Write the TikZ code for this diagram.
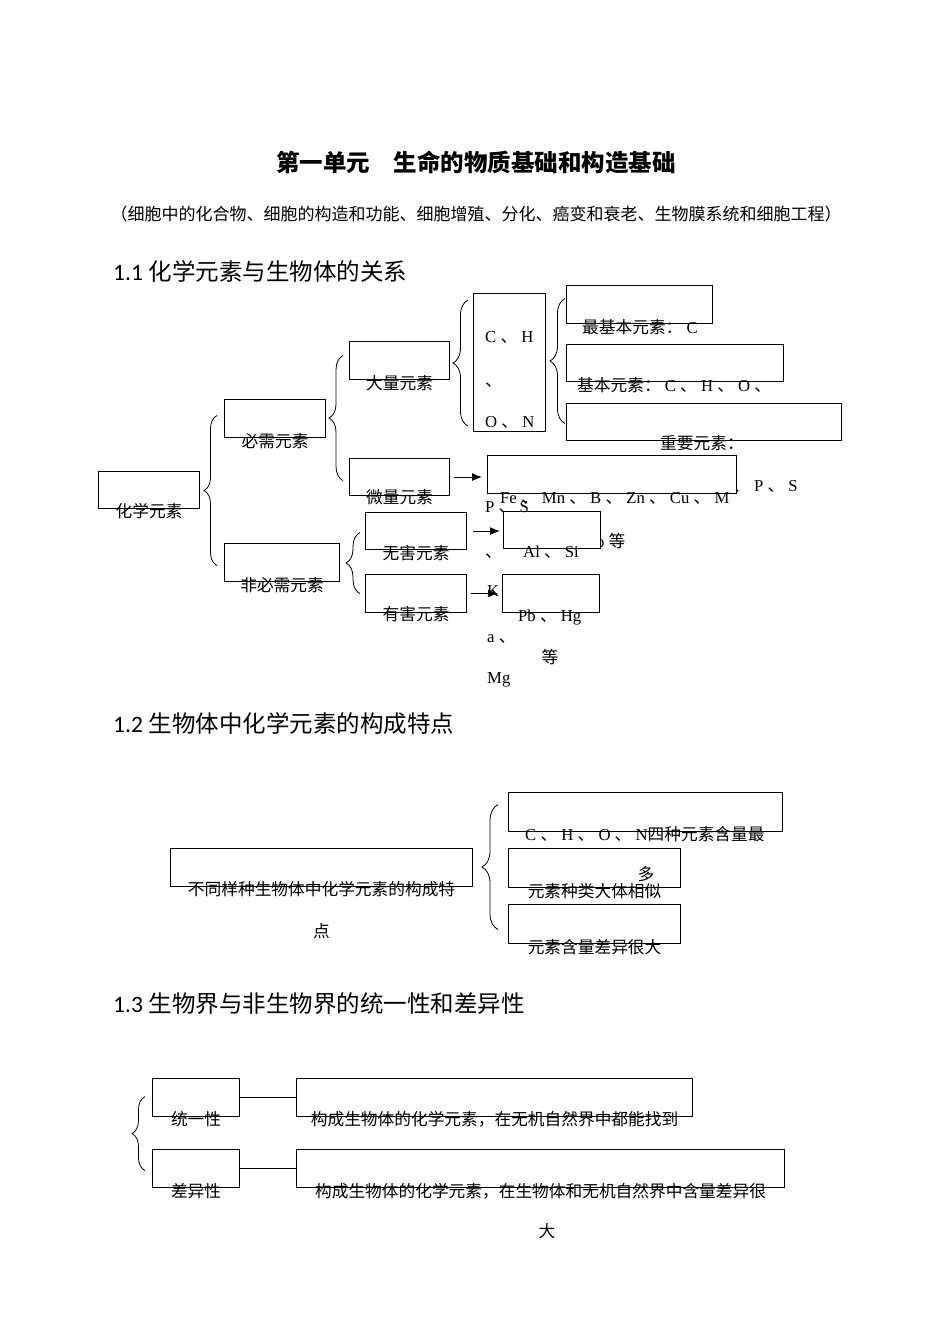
\documentclass[tikz,border=0pt]{standalone}
\usepackage{fontspec}
\setmainfont{Liberation Serif}
\newfontfamily\cjk{Noto Sans CJK SC}
\newfontfamily\calib{Carlito}
\usetikzlibrary{arrows.meta, decorations.pathreplacing}
\newcommand{\zh}[1]{{\cjk #1}}

\begin{document}
\begin{tikzpicture}[x=1pt, y=-1pt,
    box/.style   = {draw, line width=1.1pt, fill=white, anchor=north west, inner sep=0pt},
    txt/.style   = {inner sep=0pt, font=\fontsize{16.7}{20}\selectfont\cjk},
    lat/.style   = {inner sep=0pt, anchor=base west, font=\fontsize{16.7}{20}\selectfont},
    head/.style  = {inner sep=0pt, anchor=west, font=\fontsize{23.5}{28}\selectfont},
    arrow/.style = {-{Latex[length=10pt,width=8pt]}, line width=1.1pt},
    link/.style  = {line width=1.1pt},
    curly/.style = {decorate, decoration={brace, amplitude=#1}, line width=0.8pt}]
    \fill[white] (0,0) rectangle (950,1344);
    \useasboundingbox (0,0) rectangle (950,1344);
    % title
    \node[txt, font=\fontsize{23.5}{28}\selectfont\cjk\bfseries] (ttl) at (476,162) {第一单元　生命的物质基础和构造基础};
    \node[txt, font=\fontsize{17}{20}\selectfont\cjk] (sub) at (476,214) {（细胞中的化合物、细胞的构造和功能、细胞增殖、分化、癌变和衰老、生物膜系统和细胞工程）};
    % 1.1
    \node[head] (h1) at (113,271) {{\calib 1.1} \zh{化学元素与生物体的关系}};
    % text lying under the boxes
    \node[lat] (zy-l2) at (733,491) {\zh{、} P \zh{、} S};
    \node[lat] (wlx-l2) at (596,547) {o \zh{等}};
    % boxes
    \node[box, minimum width=101pt, minimum height=37pt] (hx) at (98,471) {};
    \node[box, minimum width=101pt, minimum height=38pt] (bx) at (224,399) {};
    \node[box, minimum width=115pt, minimum height=38pt] (fbx) at (224,543) {};
    \node[box, minimum width=100pt, minimum height=38pt] (dl) at (349,341) {};
    \node[box, minimum width=100pt, minimum height=37pt] (wl) at (349,458) {};
    \node[box, minimum width=101pt, minimum height=37pt] (wh) at (365,512) {};
    \node[box, minimum width=101pt, minimum height=38pt] (yh) at (365,574) {};
    \node[box, minimum width=72pt, minimum height=138pt] (chon) at (473,293) {};
    \node[box, minimum width=146pt, minimum height=38pt] (zjb) at (566,285) {};
    \node[box, minimum width=217pt, minimum height=37pt] (jb) at (566,344) {};
    \node[box, minimum width=275pt, minimum height=37pt] (zy) at (566,403) {};
    \node[box, minimum width=249pt, minimum height=38pt] (wlx) at (487,455) {};
    \node[box, minimum width=97pt, minimum height=37pt] (whx) at (503,511) {};
    \node[box, minimum width=97pt, minimum height=38pt] (yhx) at (502,574) {};
    % labels
    \node[txt, yshift=-2pt] (hx-t) at (hx.south) {化学元素};
    \node[txt, yshift=-3pt] (bx-t) at (bx.south) {必需元素};
    \node[txt, yshift=-3pt] (fbx-t) at (fbx.south) {非必需元素};
    \node[txt, yshift=-3pt] (dl-t) at (dl.south) {大量元素};
    \node[txt, yshift=-1pt] (wl-t) at (wl.south) {微量元素};
    \node[txt, yshift=-3pt] (wh-t) at (wh.south) {无害元素};
    \node[txt, yshift=-1pt] (yh-t) at (yh.south) {有害元素};
    \node[lat] (chon-1) at (485,342) {C \zh{、} H};
    \node[lat] (chon-2) at (485,386) {\zh{、}};
    \node[lat] (chon-3) at (485,427) {O \zh{、} N};
    \node[lat] (zjb-t) at (582,333) {\zh{最基本元素：} C};
    \node[lat] (jb-t) at (577,391) {\zh{基本元素：} C \zh{、} H \zh{、} O \zh{、}};
    \node[txt, anchor=west] (zy-t) at (660,443) {重要元素：};
    \node[lat] (wlx-t) at (500,503) {Fe \zh{、} Mn \zh{、} B \zh{、} Zn \zh{、} Cu \zh{、} M};
    \node[lat] (ps-t) at (485,512) {P \zh{、} S};
    \node[lat] (dun-t) at (485,557) {\zh{、}};
    \node[lat] (whx-t) at (523,557) {Al \zh{、} Si};
    \node[lat] (k-t) at (487,596) {K};
    \node[lat] (yhx-t) at (518,621) {Pb \zh{、} Hg};
    \node[lat] (ca-t) at (487,642) {a \zh{、}};
    \node[txt] (yhx-t2) at (550,657) {等};
    \node[lat] (mg-t) at (487,683) {Mg};
    % braces and arrows
    \draw[curly=13pt] ([xshift=-7pt,yshift=-3pt]fbx.west) -- ([xshift=-7pt,yshift=3pt]bx.west);
    \draw[curly=14pt] ([xshift=-6pt,yshift=-3.5pt]wl.west) -- ([xshift=-6pt,yshift=5pt]dl.west);
    \draw[curly=14pt] ([xshift=-5pt]yh.west) -- ([xshift=-5pt,yshift=-1.5pt]wh.west);
    \draw[curly=15pt] ([xshift=-5pt,yshift=6pt]chon.south west) -- ([xshift=-5pt,yshift=-7pt]chon.north west);
    \draw[curly=15pt] ([xshift=-1pt,yshift=-1.5pt]zy.west) -- ([xshift=-1pt,yshift=6pt]zjb.west);
    \draw[arrow, shorten <=4pt, shorten >=5pt] (wl.east) -- (wl.east -| wlx.west);
    \draw[arrow, shorten <=6pt, shorten >=3pt] (wh.east) -- (wh.east -| whx.west);
    \draw[arrow, shorten <=4pt, shorten >=4pt] (yh.east) -- (yh.east -| yhx.west);
    % 1.2
    \node[head] (h2) at (113,724) {{\calib 1.2} \zh{生物体中化学元素的构成特点}};
    \node[box, minimum width=302pt, minimum height=38pt] (tz) at (170,848) {};
    \node[box, minimum width=274pt, minimum height=39pt] (t1) at (508,792) {};
    \node[box, minimum width=172pt, minimum height=39pt] (t2) at (508,848) {};
    \node[box, minimum width=172pt, minimum height=39pt] (t3) at (508,904) {};
    \node[txt, yshift=-2pt] (tz-t) at (tz.south) {不同样种生物体中化学元素的构成特};
    \node[txt] (tz-t2) at ([yshift=-42pt]tz-t.center) {点};
    \node[lat] (t1-t) at (525,840) {C \zh{、} H \zh{、} O \zh{、} N\zh{四种元素含量最}};
    \node[txt] (t1-t2) at (646,874) {多};
    \node[txt, yshift=-3pt] (t2-t) at (t2.south) {元素种类大体相似};
    \node[txt, yshift=-3pt] (t3-t) at (t3.south) {元素含量差异很大};
    \draw[curly=16pt] ([xshift=-10pt,yshift=-5.5pt]t3.west) -- ([xshift=-10pt,yshift=7.5pt]t1.west);
    % 1.3
    \node[head] (h3) at (113,1004) {{\calib 1.3} \zh{生物界与非生物界的统一性和差异性}};
    \node[box, minimum width=87pt, minimum height=38pt] (ty) at (152,1078) {};
    \node[box, minimum width=87pt, minimum height=38pt] (cy) at (152,1149) {};
    \node[box, minimum width=396pt, minimum height=38pt] (tyd) at (296,1078) {};
    \node[box, minimum width=488pt, minimum height=38pt] (cyd) at (296,1149) {};
    \draw[link] (ty.east) -- (tyd.west);
    \draw[link] (cy.east) -- (cyd.west);
    \node[txt, yshift=-2pt] (ty-t) at (ty.south) {统一性};
    \node[txt, yshift=-3pt] (cy-t) at (cy.south) {差异性};
    \node[txt, yshift=-2pt] (tyd-t) at (tyd.south) {构成生物体的化学元素，在无机自然界中都能找到};
    \node[txt, yshift=-3pt] (cyd-t) at (cyd.south) {构成生物体的化学元素，在生物体和无机自然界中含量差异很};
    \node[txt] (cyd-t2) at (547,1231) {大};
    \draw[curly=13pt] ([xshift=-7pt,yshift=-2pt]cy.west) -- ([xshift=-7pt,yshift=1pt]ty.west);
\end{tikzpicture}
\end{document}
